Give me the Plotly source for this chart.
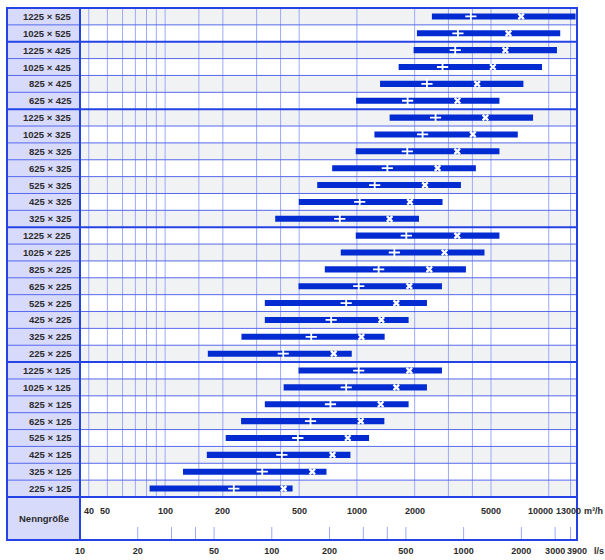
import math
import plotly.graph_objects as go

# ---------------- data ----------------
labels = ["1225 × 525", "1025 × 525",
          "1225 × 425", "1025 × 425", "825 × 425", "625 × 425",
          "1225 × 325", "1025 × 325", "825 × 325", "625 × 325", "525 × 325", "425 × 325", "325 × 325",
          "1225 × 225", "1025 × 225", "825 × 225", "625 × 225", "525 × 225", "425 × 225", "325 × 225", "225 × 225",
          "1225 × 125", "1025 × 125", "825 × 125", "625 × 125", "525 × 125", "425 × 125", "325 × 125", "225 × 125"]

q_min = [2460, 2055, 1975, 1650, 1320, 990, 1481, 1234, 986, 743, 621, 498, 375,
         986, 824, 680, 496, 331, 331, 250, 167, 496, 415, 331, 249, 207, 165, 124, 83]
q_max = [13800, 11480, 11040, 9226, 7378, 5534, 8284, 6898, 5534, 4170, 3485, 2795, 2107,
         5534, 4624, 3700, 2776, 2318, 1860, 1395, 940, 2776, 2318, 1860, 1390, 1157, 925, 694, 462]
q_plus = [3927, 3362, 3254, 2795, 2318, 1838, 2570, 2199, 1831, 1441, 1238, 1034, 814,
          1809, 1567, 1298, 1022, 879, 734, 578, 413, 1022, 879, 728, 573, 492, 406, 321, 228]
q_cross = [7180, 6166, 5943, 5113, 4236, 3345, 4677, 4023, 3333, 2633, 2264, 1891, 1481,
           3333, 2863, 2384, 1876, 1605, 1341, 1055, 757, 1876, 1605, 1330, 1047, 896, 746, 585, 415]

group_ends = [1, 5, 12, 20]          # last row index of each size group (except last)

grid_m3h = [40, 50, 60, 70, 80, 90, 100, 150, 200, 300, 400, 500,
            1000, 2000, 3000, 4000, 5000, 10000, 13000]
label_m3h = [40, 50, 100, 200, 500, 1000, 2000, 5000, 10000, 13000]
tick_ls = [20, 30, 40, 50, 100, 200, 300, 400, 500, 1000, 2000, 3000]
label_ls = [10, 20, 50, 100, 200, 500, 1000, 2000, 3000, 3900]
LS_TO_M3H = 3.6
LS_MIN, LS_MAX = 10, 3900

# ---------------- styling / geometry ----------------
W, H = 605, 560
ML, MR, MT, MB = 7, 28, 8, 20
LABEL_COL_PX = 73
ROW_PX = 489 / len(labels)
FOOT_PX = 43

BLUE_DARK = "#2443e6"
BLUE_LINE = "#5569ec"
BLUE_GRID = "#9ea9f6"
BAR = "#022cd2"
LAV = "#d8dafc"
GRAY = "#f1f2f4"
TXT = "#2a2a2a"
FONT = "Liberation Sans"

n = len(labels)
rows = list(range(n))
plot_w = W - ML - MR
x_min_data = LS_MIN * LS_TO_M3H
x_max_data = LS_MAX * LS_TO_M3H
lx_lo_data = math.log10(x_min_data)
lx_hi = math.log10(x_max_data)
dec_px = (plot_w - LABEL_COL_PX) / (lx_hi - lx_lo_data)
lx_lo = lx_lo_data - LABEL_COL_PX / dec_px
x_lo = 10 ** lx_lo
y_bottom = n - 0.5 + FOOT_PX / ROW_PX
y_top = -0.5

fig = go.Figure()

fig.add_trace(go.Bar(
    y=rows, x=[b - a for a, b in zip(q_min, q_max)], base=q_min, orientation="h",
    width=0.36, marker=dict(color=BAR, line=dict(width=0)), hoverinfo="skip"))
fig.add_trace(go.Scatter(
    y=rows, x=q_plus, mode="markers", hoverinfo="skip",
    marker=dict(symbol="cross-thin", size=8, line=dict(width=1.8, color="white"))))
fig.add_trace(go.Scatter(
    y=rows, x=q_cross, mode="markers", hoverinfo="skip",
    marker=dict(symbol="x-thin", size=5.5, line=dict(width=2.4, color="white"))))

# shapes on the log axis take data values
shapes = []
shapes.append(dict(type="rect", xref="x", yref="y", x0=x_lo, x1=x_min_data, y0=y_top, y1=y_bottom,
                   fillcolor=LAV, line=dict(width=0), layer="below"))
for i in rows:
    if i % 2 == 0:
        shapes.append(dict(type="rect", xref="x", yref="y", x0=x_min_data, x1=x_max_data,
                           y0=i - 0.5, y1=i + 0.5, fillcolor=GRAY, line=dict(width=0), layer="below"))
for g in grid_m3h:
    shapes.append(dict(type="line", xref="x", yref="y", x0=g, x1=g,
                       y0=y_top, y1=n - 0.5, line=dict(color=BLUE_GRID, width=1), layer="below"))
tick_top = y_bottom - 13 / ROW_PX
for v in tick_ls + [label_m3h[-1] / LS_TO_M3H]:
    xv = v * LS_TO_M3H
    shapes.append(dict(type="line", xref="x", yref="y", x0=xv, x1=xv, y0=tick_top, y1=y_bottom,
                       line=dict(color=BLUE_GRID, width=1), layer="below"))
for i in range(n - 1):
    thick = i in group_ends
    shapes.append(dict(type="line", xref="x", yref="y", x0=x_lo, x1=x_max_data, y0=i + 0.5, y1=i + 0.5,
                       line=dict(color=BLUE_DARK if thick else BLUE_LINE, width=2 if thick else 1)))
shapes.append(dict(type="line", xref="x", yref="y", x0=x_lo, x1=x_max_data, y0=n - 0.5, y1=n - 0.5,
                   line=dict(color=BLUE_DARK, width=2)))
shapes.append(dict(type="line", xref="x", yref="y", x0=x_min_data, x1=x_min_data, y0=y_top, y1=y_bottom,
                   line=dict(color=BLUE_DARK, width=2)))
shapes.append(dict(type="rect", xref="paper", yref="paper", x0=0, x1=1, y0=0, y1=1,
                   line=dict(color=BLUE_DARK, width=2)))

# annotations on the log axis take log10 values
ann = []
for i, t in enumerate(labels):
    ann.append(dict(xref="x", yref="y", x=lx_lo_data, y=i, text=t, showarrow=False,
                    xanchor="right", xshift=-6, font=dict(family=FONT, size=9.5, color=TXT, weight="bold")))
ann.append(dict(xref="x", yref="y", x=(lx_lo + lx_lo_data) / 2, y=(n - 0.5 + y_bottom) / 2,
                text="Nenngröße", showarrow=False,
                font=dict(family=FONT, size=9.5, color=TXT, weight="bold")))
y_m3 = n - 0.5 + 14 / ROW_PX
shift_m3 = {50: -2, 10000: -8, 13000: -2}
for v in label_m3h:
    ann.append(dict(xref="x", yref="y", x=math.log10(v), y=y_m3, text=str(v), showarrow=False,
                    xshift=shift_m3.get(v, 0),
                    font=dict(family=FONT, size=9, color=TXT, weight="bold")))
ann.append(dict(xref="paper", yref="y", x=1, y=y_m3, text="m³/h", showarrow=False, xanchor="left",
                xshift=5, font=dict(family=FONT, size=9, color=TXT, weight="bold")))
ann.append(dict(xref="paper", yref="paper", x=1, y=0, text="l/s", showarrow=False, xanchor="left",
                yanchor="middle", xshift=15, yshift=-11,
                font=dict(family=FONT, size=9, color=TXT, weight="bold")))

fig.update_layout(
    width=W, height=H, margin=dict(l=ML, r=MR, t=MT, b=MB, autoexpand=False),
    paper_bgcolor="white", plot_bgcolor="white", showlegend=False, barmode="overlay",
    hovermode=False, shapes=shapes, annotations=ann,
    xaxis=dict(type="log", range=[lx_lo, lx_hi + 1e-6], showgrid=False, zeroline=False, showline=False,
               ticks="", tickangle=0, automargin=False, ticklabelstandoff=4,
               tickvals=[v * LS_TO_M3H for v in label_ls], ticktext=[str(v) for v in label_ls],
               tickfont=dict(family=FONT, size=9, color=TXT, weight="bold")),
    yaxis=dict(range=[y_bottom, y_top], showgrid=False, zeroline=False, showticklabels=False,
               showline=False, automargin=False),
)

fig.write_html("out.html", config={"displayModeBar": False},
               post_script="document.body.style.margin='0';")
